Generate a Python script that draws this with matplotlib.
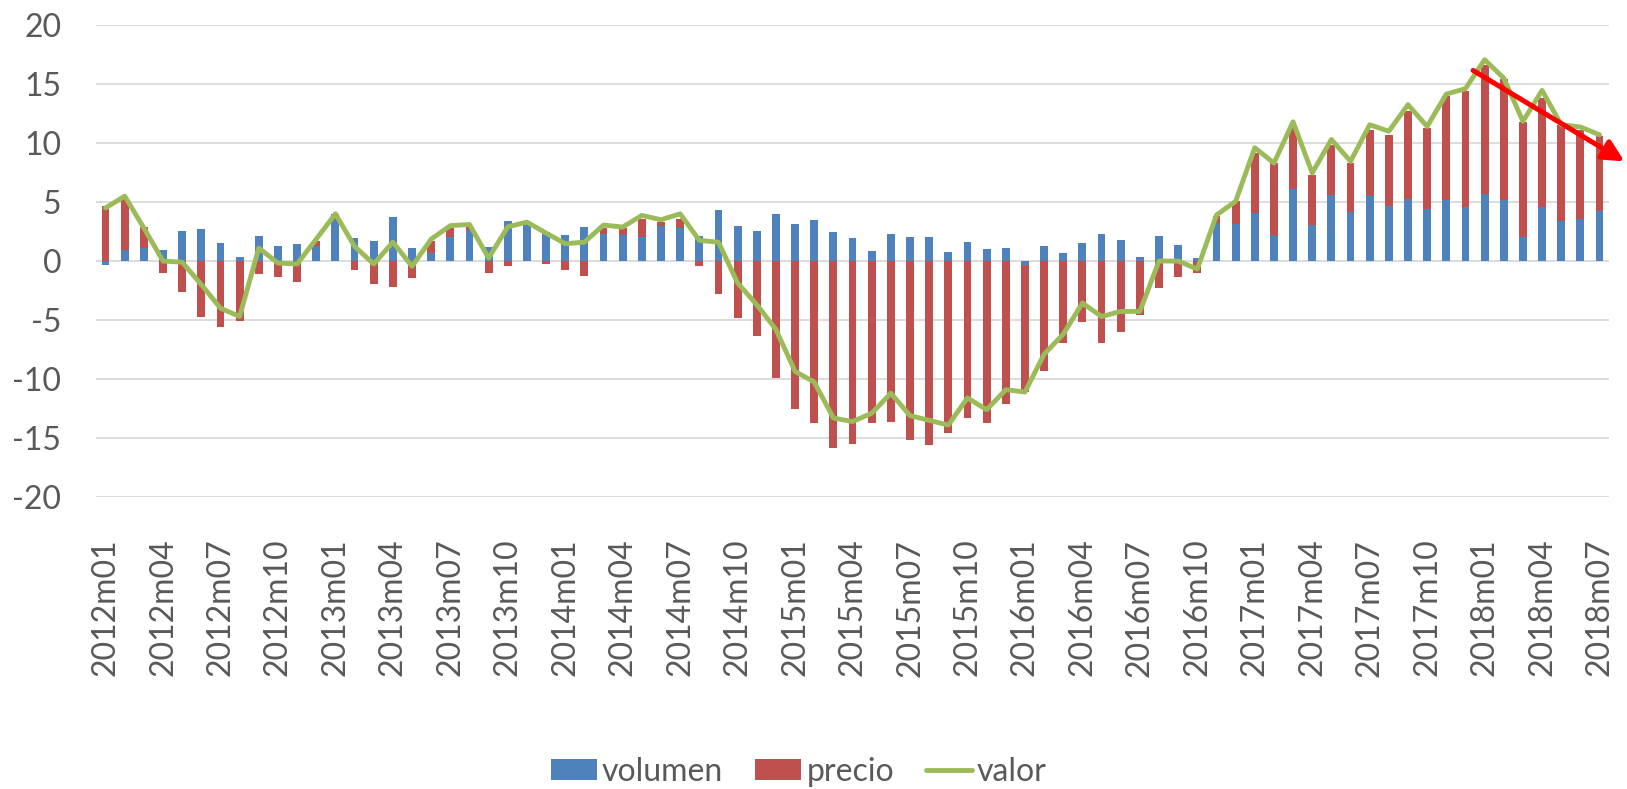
import numpy as np
import matplotlib
matplotlib.use("Agg")
import matplotlib.pyplot as plt

plt.rcParams['font.family'] = ['Lato', 'DejaVu Sans']

years = list(range(2012, 2019))
months = [f"{y}m{m:02d}" for y in years for m in range(1, 13)][:79]

volumen = [-0.37, 0.96, 1.07, 0.96, 2.54, 2.68, 1.53, 0.34, 2.12, 1.24, 1.47, 1.3,
           3.45, 1.92, 1.67, 3.76, 1.07, 0.68, 2.03, 2.6, 1.2, 3.36, 3.2, 2.46,
           2.2, 2.88, 2.26, 2.18, 2.03, 3.0, 2.8, 2.1, 4.3, 2.97, 2.54, 3.98,
           3.1, 3.47, 2.43, 1.92, 0.82, 2.3, 2.03, 2.03, 0.76, 1.6, 1.0, 1.13,
           -0.3, 1.24, 0.68, 1.55, 2.29, 1.78, 0.31, 2.15, 1.33, 0.28, 3.2, 3.1,
           4.04, 2.15, 6.13, 3.08, 5.62, 4.15, 5.48, 4.7, 5.28, 4.4, 5.2, 4.6,
           5.7, 5.2, 2.0, 4.6, 3.42, 3.56, 4.27]
precio = [4.7, 4.3, 1.8, -1.0, -2.65, -4.7, -5.6, -5.06, -1.13, -1.38, -1.75, 0.4,
          0.5, -0.8, -1.92, -2.18, -1.44, 1.0, 0.74, 0.25, -1.0, -0.42, 0.1, -0.22,
          -0.8, -1.24, 0.51, 0.6, 1.5, 0.3, 0.8, -0.45, -2.8, -4.86, -6.36, -9.9,
          -12.5, -13.7, -15.8, -15.5, -13.7, -13.6, -15.2, -15.6, -14.6, -13.3, -13.7, -12.1,
          -10.8, -9.35, -6.95, -5.2, -6.95, -6.0, -4.6, -2.26, -1.38, -1.0, 0.65, 1.96,
          5.1, 6.15, 5.17, 4.22, 4.24, 4.15, 5.62, 6.0, 7.42, 6.9, 8.75, 9.8,
          10.9, 10.2, 9.8, 9.2, 8.13, 7.57, 6.33]
valor = [4.5, 5.5, 2.8, 0.0, -0.1, -2.0, -4.0, -4.7, 1.1, -0.17, -0.25, 1.86,
         4.0, 1.24, -0.25, 1.6, -0.45, 1.86, 3.0, 3.1, 0.25, 2.9, 3.3, 2.37,
         1.47, 1.6, 3.05, 2.88, 3.87, 3.5, 4.0, 1.75, 1.6, -1.86, -3.7, -5.8,
         -9.35, -10.25, -13.3, -13.6, -12.9, -11.2, -13.1, -13.5, -13.9, -11.6, -12.6, -10.9,
         -11.1, -7.9, -6.2, -3.56, -4.7, -4.27, -4.27, 0.0, 0.0, -0.68, 3.9, 5.06,
         9.6, 8.3, 11.8, 7.46, 10.3, 8.45, 11.55, 11.0, 13.25, 11.4, 14.15, 14.6,
         17.06, 15.5, 11.84, 14.46, 11.55, 11.36, 10.7]

arrow_start = (71.4, 16.15)
arrow_end = (79.3, 8.44)

vol = np.array(volumen)
pre = np.array(precio)
x = np.arange(len(months))
same_sign = np.sign(vol) == np.sign(pre)
pre_bottom = np.where(same_sign, vol, 0.0)

fig = plt.figure(figsize=(16.27, 7.89), dpi=100)
ax = fig.add_axes([0.059, 0.370, 0.930, 0.5983])

text_color = '#595959'
b1 = ax.bar(x, vol, width=0.41, color='#4F81BD', label='volumen', zorder=2)
b2 = ax.bar(x, pre, width=0.41, bottom=pre_bottom, color='#C0504D', label='precio', zorder=2)
l1, = ax.plot(x, valor, color='#9BBB59', lw=3.5, label='valor', zorder=3,
              solid_joinstyle='round', solid_capstyle='round')

ax.annotate('', xy=arrow_end, xytext=arrow_start, xycoords='data',
            arrowprops=dict(arrowstyle='-|>', color='#FF0000', lw=3.6,
                            mutation_scale=32, shrinkA=0, shrinkB=0),
            annotation_clip=False, zorder=5)

ax.set_xlim(-0.5, len(months) - 0.5)
ax.set_ylim(-20, 20)
ax.set_yticks(np.arange(-20, 21, 5))
ax.set_yticklabels([str(v) for v in range(-20, 21, 5)])
ax.set_xticks(x[::3])
ax.set_xticklabels(months[::3], rotation=90)
ax.yaxis.grid(True, color='#D9D9D9', lw=1.3, zorder=0)
ax.set_axisbelow(True)
for s in ax.spines.values():
    s.set_visible(False)
ax.tick_params(axis='both', length=0, labelsize=23, colors=text_color)
ax.tick_params(axis='y', pad=25)
ax.tick_params(axis='x', pad=30)

leg = fig.legend([b1, b2, l1], ['volumen', 'precio', 'valor'],
                 loc='center', bbox_to_anchor=(0.491, 17 / 789), ncol=3, frameon=False,
                 fontsize=23, handlelength=1.45, handleheight=0.63, handletextpad=0.15,
                 columnspacing=1.0, labelcolor=text_color)

fig.savefig('out.png', dpi=100)
